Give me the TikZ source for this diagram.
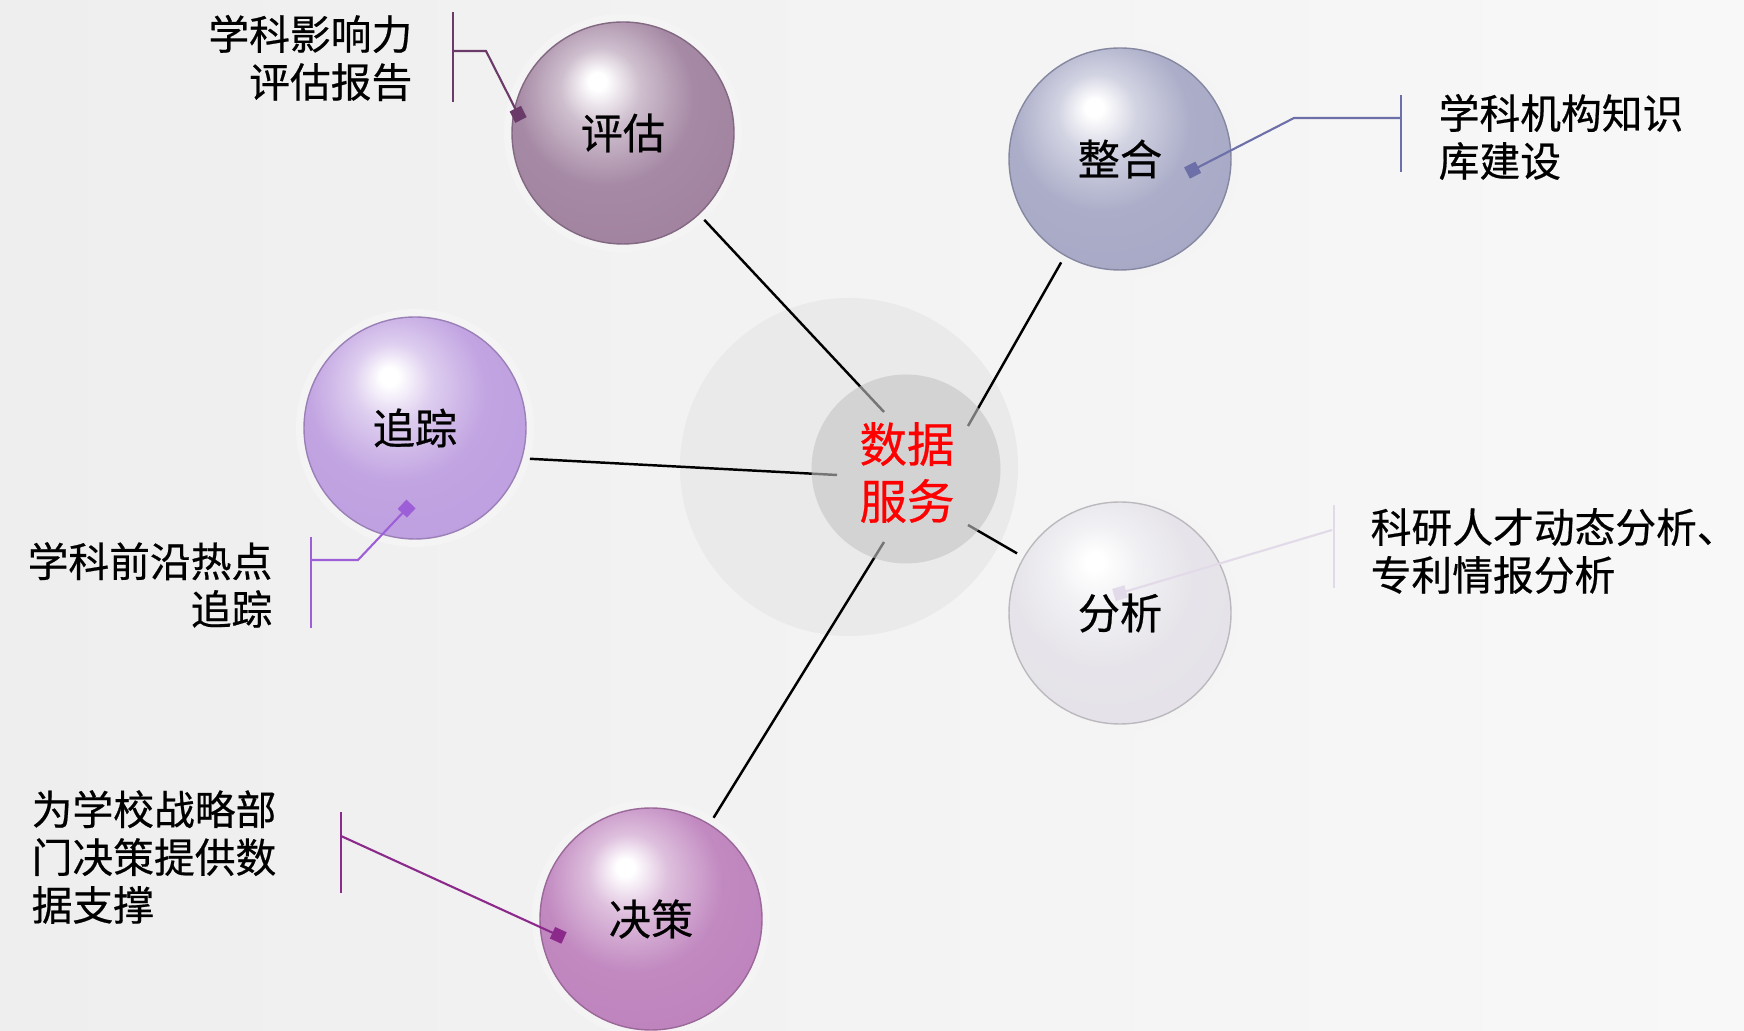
\documentclass[tikz,border=0pt]{standalone}
\usepackage{fontspec}
\newfontfamily\cjk[FakeBold=0.5]{Noto Sans CJK SC}
\usepackage{tikz}
\usetikzlibrary{arrows.meta}

\definecolor{bgleft}{HTML}{EEEEEE}
\definecolor{bgright}{HTML}{F8F8F8}
\definecolor{hubgray}{HTML}{EAEAEA}
\definecolor{coregray}{HTML}{C4C4C4}
\definecolor{halogray}{HTML}{F4F4F4}
\definecolor{pinggucol}{HTML}{9E7F9D}
\definecolor{zhenghecol}{HTML}{A4A6C4}
\definecolor{zhuizongcol}{HTML}{BC9CDF}
\definecolor{fenxicol}{HTML}{E4E2E8}
\definecolor{juececol}{HTML}{BC7FBB}
\definecolor{pinggulink}{HTML}{6A3A69}
\definecolor{zhenghelink}{HTML}{6C6FA8}
\definecolor{zhuizonglink}{HTML}{9D5FD8}
\definecolor{fenxilink}{HTML}{E2DAE8}
\definecolor{juecelink}{HTML}{8C2A8C}

% glossy sphere shading, coloured by spherecol
\pgfdeclareradialshading[spherecol]{glossy}{\pgfpoint{-6bp}{12bp}}{%
  color(0bp)=(white);
  color(2bp)=(white);
  color(9bp)=(spherecol!50!white);
  color(20bp)=(spherecol!92!white);
  color(40bp)=(spherecol);
  color(50bp)=(spherecol!93!black);
  color(60bp)=(spherecol!80!black)}

\begin{document}
\begin{tikzpicture}[
    sphere/.style={circle, minimum size=2.22cm, inner sep=0pt, outer sep=0.08cm,
      /utils/exec={\colorlet{spherecol}{#1}}, shading=glossy,
      draw=#1!82!black, line width=0.4pt,
      preaction={draw=halogray, line width=0.16cm},
      font=\cjk\fontsize{12}{14}\selectfont},
    link/.style={line width=0.7pt, black},
    bar/.style={line width=0.7pt},
    callout/.style={line width=0.6pt, -{Square[length=3.6pt,width=3.6pt]}},
    note/.style={font=\cjk\fontsize{11.6}{13.6}\selectfont, inner sep=0pt}]

    % Background
    \clip (0,0) rectangle (17.44,10.31);
    \shade[left color=bgleft, right color=bgright] (0,0) rectangle (17.44,10.31);

    % Central disc
    \node[circle, fill=hubgray, minimum size=3.38cm] (hub) at (8.49,5.64) {};

    % End points of the links inside the core
    \coordinate (e1) at (8.84,6.19);
    \coordinate (e2) at (9.68,6.05);
    \coordinate (e3) at (8.37,5.56);
    \coordinate (e4) at (9.68,5.06);
    \coordinate (e5) at (8.84,4.89);

    % Draw the five spheres
    \node[sphere=pinggucol] (pinggu) at (6.23,8.98) {评估};
    \node[sphere=zhenghecol] (zhenghe) at (11.20,8.72) {整合};
    \node[sphere=zhuizongcol] (zhuizong) at (4.15,6.03) {追踪};
    \node[sphere=fenxicol] (fenxi) at (11.20,4.18) {分析};
    \node[sphere=juececol] (juece) at (6.51,1.12) {决策};

    % Links from the spheres to the core
    \draw[link] (pinggu) -- (e1);
    \draw[link] (zhenghe) -- (e2);
    \draw[link] (zhuizong.-15) -- (e3);
    \draw[link] (fenxi) -- (e4);
    \draw[link] (juece) -- (e5);

    % Core with its label
    \node[circle, fill=coregray, fill opacity=0.6, minimum size=1.89cm] (core) at (9.06,5.62) {};
    \node[text=red, align=center, inner sep=0pt,
      font=\cjk\fontsize{13.5}{16.2}\selectfont] (data) at (9.07,5.585) {数据\\服务};

    % Callout for 评估
    \coordinate (b1t) at (4.53,10.19);
    \coordinate (b1b) at (4.53,9.29);
    \coordinate (k1) at (4.53,9.80);
    \coordinate (m1) at (5.21,9.11);
    \draw[pinggulink, bar] (b1t) -- (b1b);
    \draw[pinggulink, callout] (k1) -- ++(0.33,0) -- (m1);
    \node[note, anchor=east, align=right] (n1) at (4.13,9.73) {学科影响力\\评估报告};

    % Callout for 整合
    \coordinate (b2t) at (14.01,9.36);
    \coordinate (b2b) at (14.01,8.59);
    \coordinate (k2) at (14.01,9.13);
    \coordinate (m2) at (11.87,8.58);
    \draw[zhenghelink, bar] (b2t) -- (b2b);
    \draw[zhenghelink, callout] (k2) -- ++(-1.07,0) -- (m2);
    \node[note, anchor=west, align=left] (n2) at (14.38,8.94) {学科机构知识\\库建设};

    % Callout for 追踪
    \coordinate (b3t) at (3.11,4.94);
    \coordinate (b3b) at (3.11,4.03);
    \coordinate (k3) at (3.11,4.71);
    \coordinate (m3) at (4.11,5.27);
    \draw[zhuizonglink, bar] (b3t) -- (b3b);
    \draw[zhuizonglink, callout] (k3) -- ++(0.47,0) -- (m3);
    \node[note, anchor=east, align=right] (n3) at (2.73,4.46) {学科前沿热点\\追踪};

    % Callout for 分析
    \coordinate (b4t) at (13.34,5.26);
    \coordinate (b4b) at (13.34,4.43);
    \coordinate (k4) at (13.32,5.01);
    \coordinate (m4) at (11.14,4.36);
    \draw[fenxilink, bar] (b4t) -- (b4b);
    \draw[fenxilink, callout] (k4) -- (m4);
    \node[note, anchor=west, align=left] (n4) at (13.70,4.80) {科研人才动态分析、\\专利情报分析};

    % Callout for 决策
    \coordinate (b5t) at (3.41,2.19);
    \coordinate (b5b) at (3.41,1.38);
    \coordinate (k5) at (3.41,1.95);
    \coordinate (m5) at (5.64,0.93);
    \draw[juecelink, bar] (b5t) -- (b5b);
    \draw[juecelink, callout] (k5) -- (m5);
    \node[note, anchor=west, align=left] (n5) at (0.31,1.74) {为学校战略部\\门决策提供数\\据支撑};

\end{tikzpicture}
\end{document}
